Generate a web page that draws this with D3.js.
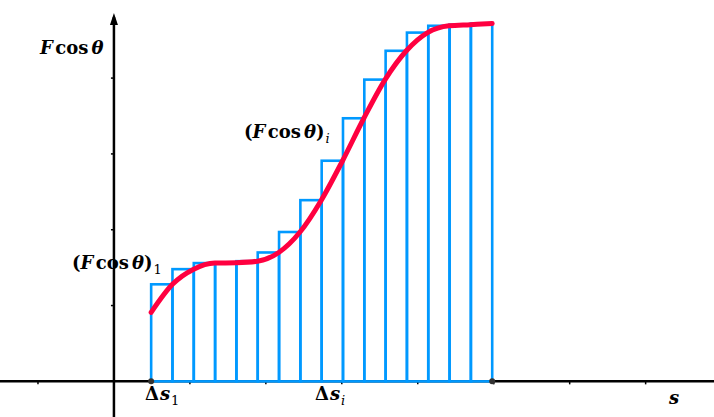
<!DOCTYPE html>
<html>
<head>
<meta charset="utf-8">
<script src="https://cdn.jsdelivr.net/npm/d3@7"></script>
<style>
  body { margin: 0; background: #fff; }
  text { font-family: "DejaVu Serif", serif; font-weight: bold; fill: #000; }
</style>
</head>
<body>
<div id="root"></div>
<script>
const width = 714
const height = 417

// axis extent in graph units (1 unit = one tick)
const xDomain = [-1.5, 7.9]
const yDomain = [-0.47, 5.03]
const yAxisTop = 4.86
const xTicks = [-1, 1, 2, 3, 4, 5, 6, 7]
const yTicks = [1, 2, 3, 4]

// partition of s
const sStart = 0.49
const sEnd = 4.98
const nBars = 16

// bar heights (value of F cos θ at the right end of each Δs)
const barValues = [1.28, 1.48, 1.56, 1.565, 1.585, 1.70, 1.97, 2.39, 2.91, 3.47, 3.98, 4.36, 4.60, 4.69, 4.705, 4.72]

// curve F cos θ(s)
const curveS = [0.49, 0.77, 1.05, 1.33, 1.61, 1.89, 2.17, 2.45, 2.73, 3.01, 3.29, 3.57, 3.85, 4.13, 4.41, 4.69, 4.98]
const curveV = [0.91, 1.28, 1.48, 1.56, 1.565, 1.585, 1.70, 1.97, 2.39, 2.91, 3.47, 3.98, 4.36, 4.60, 4.69, 4.705, 4.72]

const x = d3.scaleLinear().domain(xDomain).range([0, width])
const y = d3.scaleLinear().domain(yDomain).range([height, 0])

const svg = d3.select('#root').append('svg')
  .attr('width', width)
  .attr('height', height)

const ds = (sEnd - sStart) / nBars
const bars = barValues.map((v, i) => ({ s0: sStart + i * ds, s1: sStart + (i + 1) * ds, v }))

// labels first: the y axis runs over one of them
function mathLabel (g, px, py, parts) {
  const t = g.append('text').attr('x', px).attr('y', py).style('font-size', '18px')
  parts.forEach(p => {
    const ts = t.append('tspan').text(p.t)
    if (p.it) ts.style('font-style', 'italic')
    if (p.sub) ts.attr('dy', 5).style('font-size', '13px').style('font-weight', 'normal')
    if (p.dx) ts.attr('dx', p.dx)
  })
  return t
}

const labels = svg.append('g')
mathLabel(labels, 40, 54, [{ t: 'F', it: true }, { t: 'cos', dx: 2.5 }, { t: 'θ', it: true, dx: 3 }])
mathLabel(labels, 72, 269, [{ t: '(' }, { t: 'F', it: true }, { t: 'cos', dx: 2.5 }, { t: 'θ', it: true, dx: 3 }, { t: ')' }, { t: '1', sub: true, dx: 1 }])
mathLabel(labels, 244, 138, [{ t: '(' }, { t: 'F', it: true }, { t: 'cos', dx: 2.5 }, { t: 'θ', it: true, dx: 3 }, { t: ')' }, { t: 'i', sub: true, it: true, dx: 1 }])
mathLabel(labels, 145, 400, [{ t: 'Δ' }, { t: 's', it: true, dx: 1 }, { t: '1', sub: true, dx: 1 }])
mathLabel(labels, 315, 400, [{ t: 'Δ' }, { t: 's', it: true, dx: 1 }, { t: 'i', sub: true, it: true, dx: 1 }])
mathLabel(labels, 669, 404, [{ t: 's', it: true }])

// axes
const axes = svg.append('g').attr('stroke', '#000')
axes.append('line')
  .attr('x1', x(xDomain[0])).attr('x2', x(xDomain[1]))
  .attr('y1', y(0)).attr('y2', y(0))
  .attr('stroke-width', 2.5)
axes.append('line')
  .attr('x1', x(0)).attr('x2', x(0))
  .attr('y1', y(yDomain[0])).attr('y2', y(yAxisTop) + 4)
  .attr('stroke-width', 2.5)
axes.append('path')
  .attr('d', `M${x(0)},${y(yAxisTop)} l-4,12 l8,0 z`)
  .attr('fill', '#000').attr('stroke', 'none')

axes.selectAll('.xt').data(xTicks).join('line')
  .attr('x1', d => x(d)).attr('x2', d => x(d))
  .attr('y1', y(0)).attr('y2', y(0) + 3)
  .attr('stroke-width', 1.5)
axes.selectAll('.yt').data(yTicks).join('line')
  .attr('x1', x(0) - 3).attr('x2', x(0))
  .attr('y1', d => y(d)).attr('y2', d => y(d))
  .attr('stroke-width', 1.5)

// rectangles
svg.append('g')
  .selectAll('rect').data(bars).join('rect')
  .attr('x', d => x(d.s0))
  .attr('y', d => y(d.v))
  .attr('width', d => x(d.s1) - x(d.s0))
  .attr('height', d => y(0) - y(d.v))
  .attr('fill', 'none')
  .attr('stroke', '#0099ff')
  .attr('stroke-width', 2.6)

// curve
const line = d3.line()
  .x((d, i) => x(curveS[i]))
  .y(d => y(d))
  .curve(d3.curveMonotoneX)

svg.append('path')
  .attr('d', line(curveV))
  .attr('fill', 'none')
  .attr('stroke', '#ff0040')
  .attr('stroke-width', 5)
  .attr('stroke-linecap', 'round')

// end points of the interval
svg.selectAll('circle').data([sStart, sEnd]).join('circle')
  .attr('cx', d => x(d))
  .attr('cy', y(0))
  .attr('r', 3)
  .attr('fill', '#333')
</script>
</body>
</html>
